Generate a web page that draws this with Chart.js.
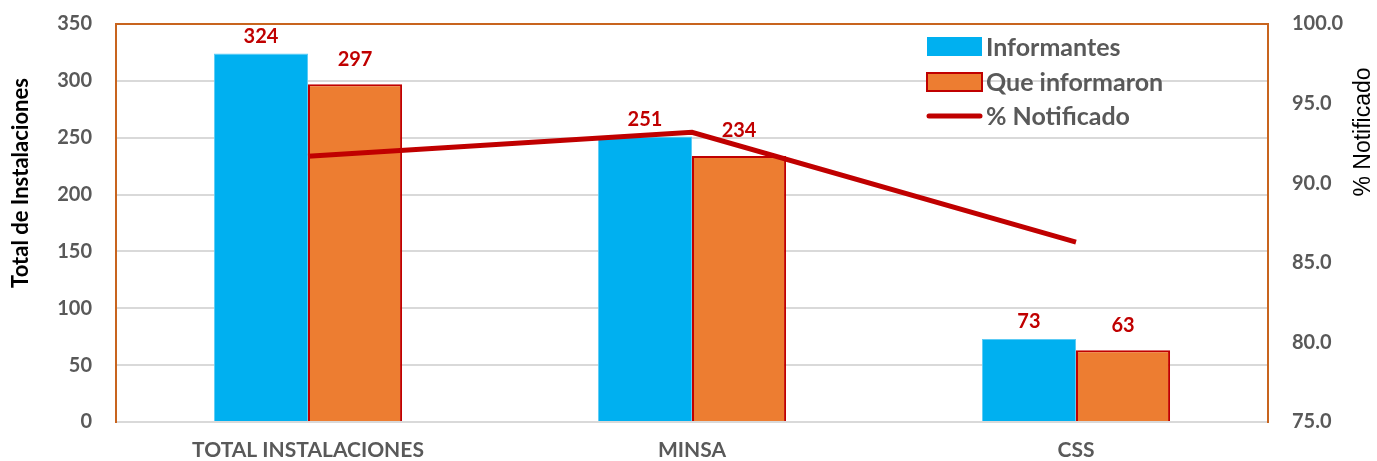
<!DOCTYPE html>
<html><head><meta charset="utf-8">
<script src="https://cdn.jsdelivr.net/npm/chart.js@4.4.1/dist/chart.umd.min.js"></script>
<style>html,body{margin:0;padding:0;background:#fff}#wrap{width:1377px;height:461px}</style>
</head><body><div id="wrap"><canvas id="c" width="1377" height="461"></canvas></div>
<script>
const categories = ["TOTAL INSTALACIONES", "MINSA", "CSS"];
const informantes = [324, 251, 73];
const queInformaron = [297, 234, 63];
const pctNotificado = [91.7, 93.2, 86.3];
const leftTicks = [0, 50, 100, 150, 200, 250, 300, 350];
const rightTicks = [75, 80, 85, 90, 95, 100];
const leftTitle = 'Total de Instalaciones';
const rightTitle = '% Notificado';

const FONT = "Lato, 'Open Sans', sans-serif";
const GRAY = "#595959";
const RED = "#C00000";
const ORANGE_BORDER = "#C8641E";

const labelPlugin = {
  id: 'labels',
  afterDatasetsDraw(chart) {
    const ctx = chart.ctx;
    ctx.save();
    ctx.font = "bold 20px " + FONT;
    ctx.fillStyle = RED;
    ctx.textAlign = 'center';
    ctx.textBaseline = 'middle';
    const offs = [17, 25];
    [0, 1].forEach(di => {
      const meta = chart.getDatasetMeta(di);
      meta.data.forEach((bar, i) => {
        ctx.fillText(String(chart.data.datasets[di].data[i]), bar.x, bar.y - offs[di]);
      });
    });
    const a = chart.chartArea;
    ctx.strokeStyle = ORANGE_BORDER;
    ctx.lineWidth = 2;
    ctx.beginPath();
    ctx.moveTo(a.left, a.top);
    ctx.lineTo(a.right, a.top);
    ctx.stroke();
    // axis titles
    ctx.fillStyle = '#000';
    ctx.save();
    ctx.translate(21, 183);
    ctx.rotate(-Math.PI / 2);
    ctx.font = "bold 22px " + FONT;
    ctx.fillText(leftTitle, 0, 0);
    ctx.restore();
    ctx.save();
    ctx.translate(1364, 132);
    ctx.rotate(-Math.PI / 2);
    ctx.font = "23px 'Liberation Sans', Arial, sans-serif";
    ctx.fillText(rightTitle, 0, 0);
    ctx.restore();
    // legend
    const lx = 927, ys = [47, 82, 116];
    ctx.font = "bold 25px " + FONT;
    ctx.textAlign = 'left';
    chart.data.datasets.forEach((ds, i) => {
      const y = ys[i];
      if (i === 0) {
        ctx.fillStyle = ds.backgroundColor;
        ctx.fillRect(lx, y - 10, 55, 19);
      } else if (i === 1) {
        ctx.fillStyle = ds.backgroundColor;
        ctx.fillRect(lx, y - 9, 55, 18);
        ctx.strokeStyle = ds.borderColor;
        ctx.lineWidth = 2;
        ctx.strokeRect(lx, y - 9, 55, 18);
      } else {
        ctx.strokeStyle = ds.borderColor;
        ctx.lineWidth = 5;
        ctx.lineCap = 'round';
        ctx.beginPath();
        ctx.moveTo(lx + 2, y);
        ctx.lineTo(lx + 53, y);
        ctx.stroke();
      }
      ctx.fillStyle = GRAY;
      ctx.fillText(ds.label, lx + 59, y + 1);
    });
    ctx.restore();
  }
};

new Chart(document.getElementById('c'), {
  data: {
    labels: categories,
    datasets: [
      { type: 'bar', label: 'Informantes', data: informantes, backgroundColor: '#00B0F0', borderColor: '#5CCBF5', borderWidth: 1, yAxisID: 'y', order: 2, categoryPercentage: 0.49, barPercentage: 1.0 },
      { type: 'bar', label: 'Que informaron', data: queInformaron, backgroundColor: '#ED7D31', borderColor: '#C00000', borderWidth: 2, yAxisID: 'y', order: 2, categoryPercentage: 0.49, barPercentage: 1.0 },
      { type: 'line', label: '% Notificado', data: pctNotificado, borderColor: RED, backgroundColor: RED, borderWidth: 5, pointRadius: 0, tension: 0, yAxisID: 'y1', order: 1 }
    ]
  },
  options: {
    responsive: false,
    animation: false,
    layout: { padding: { top: 24, left: 0, right: 0, bottom: 0 } },
    plugins: { legend: { display: false }, tooltip: { enabled: false } },
    scales: {
      x: {
        grid: { display: false, drawTicks: false },
        border: { color: '#D9D9D9', width: 2 },
        ticks: { color: GRAY, font: { family: FONT, size: 21, weight: 'bold' }, padding: 16, maxRotation: 0 },
        afterFit: s => { s.height = 39; s.paddingLeft = 0; s.paddingRight = 0; }
      },
      y: {
        position: 'left', min: 0, max: 350,
        afterBuildTicks: s => { s.ticks = leftTicks.map(v => ({ value: v })); },
        grid: { color: c => (c.tick.value === 0 || c.tick.value === 350) ? 'rgba(0,0,0,0)' : '#D9D9D9', lineWidth: 2, drawTicks: false },
        border: { color: ORANGE_BORDER, width: 2 },
        ticks: { color: GRAY, font: { family: FONT, size: 20, weight: 'bold' }, padding: 24 },
        afterFit: s => { s.width = 116; s.paddingTop = 0; s.paddingBottom = 0; }
      },
      y1: {
        position: 'right', min: 75, max: 100,
        afterBuildTicks: s => { s.ticks = rightTicks.map(v => ({ value: v })); },
        grid: { display: false, drawTicks: false },
        border: { color: ORANGE_BORDER, width: 2 },
        ticks: { color: GRAY, font: { family: FONT, size: 20, weight: 'bold' }, padding: 24, callback: v => Number(v).toFixed(1) },
        afterFit: s => { s.width = 109; s.paddingTop = 0; s.paddingBottom = 0; }
      }
    }
  },
  plugins: [labelPlugin]
});
</script>
</body></html>
